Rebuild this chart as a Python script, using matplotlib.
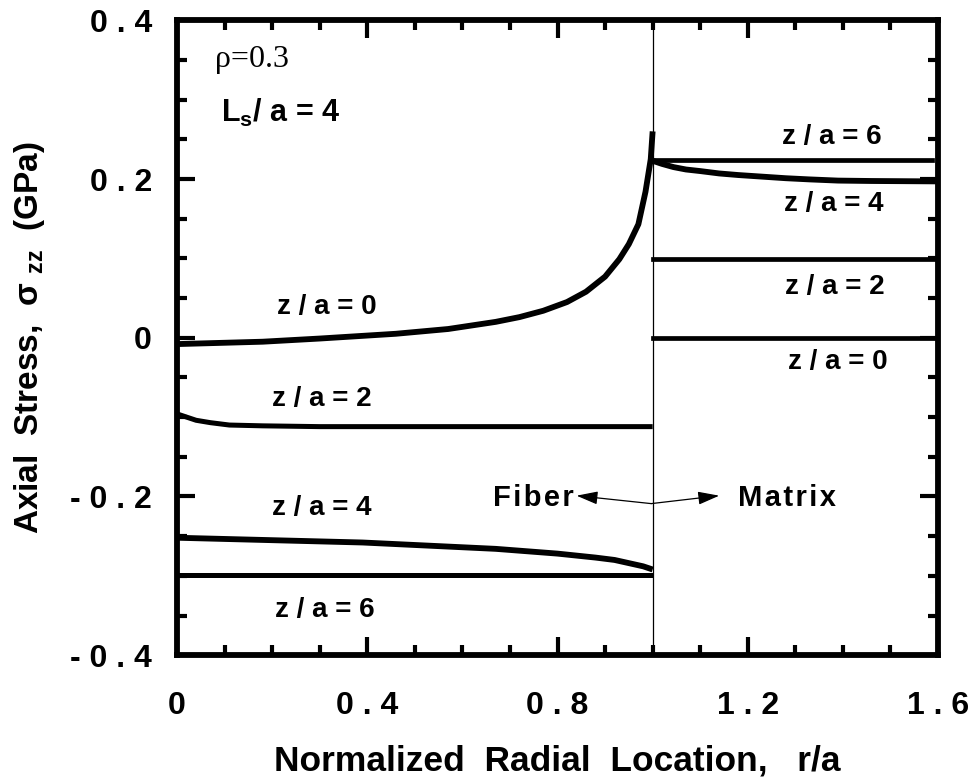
import matplotlib
matplotlib.use("Agg")
import matplotlib.pyplot as plt
from matplotlib.ticker import MultipleLocator, FixedLocator, FixedFormatter

plt.rcParams['font.family'] = ['Liberation Sans', 'DejaVu Sans']
plt.rcParams['font.weight'] = 'bold'
plt.rcParams['axes.labelweight'] = 'bold'
plt.rcParams['mathtext.fontset'] = 'custom'
plt.rcParams['mathtext.rm'] = 'Liberation Sans:bold'
plt.rcParams['mathtext.it'] = 'Liberation Sans:bold'
plt.rcParams['mathtext.bf'] = 'Liberation Sans:bold'

# fiber region (0 <= r/a <= 1)
fiber_r_z0 = [0.0, 0.18, 0.30, 0.46, 0.57, 0.67, 0.72, 0.77, 0.82, 0.86, 0.90, 0.93,
              0.95, 0.97, 0.985, 0.996, 1.0]
fiber_z0 = [-0.008, -0.005, -0.001, 0.005, 0.011, 0.020, 0.026, 0.034, 0.045, 0.058,
            0.077, 0.099, 0.118, 0.143, 0.184, 0.225, 0.260]
fiber_r_z2 = [0.0, 0.02, 0.04, 0.07, 0.11, 0.18, 0.30, 1.0]
fiber_z2 = [-0.096, -0.100, -0.104, -0.107, -0.110, -0.111, -0.112, -0.112]
fiber_r_z4 = [0.0, 0.39, 0.67, 0.80, 0.88, 0.92, 0.95, 0.98, 1.0]
fiber_z4 = [-0.252, -0.258, -0.266, -0.272, -0.277, -0.280, -0.284, -0.288, -0.292]
fiber_r_z6 = [0.0, 1.0]
fiber_z6 = [-0.299, -0.299]

# matrix region (r/a >= 1)
matrix_r_z0 = [1.0, 1.6]
matrix_z0 = [0.0, 0.0]
matrix_r_z2 = [1.0, 1.6]
matrix_z2 = [0.099, 0.099]
matrix_r_z4 = [1.0, 1.02, 1.044, 1.07, 1.10, 1.14, 1.18, 1.23, 1.28, 1.33, 1.39, 1.46, 1.6]
matrix_z4 = [0.223, 0.219, 0.215, 0.212, 0.210, 0.207, 0.205, 0.203, 0.201, 0.1995,
             0.198, 0.1975, 0.197]
matrix_r_z6 = [1.0, 1.587]
matrix_z6 = [0.224, 0.224]

x_ticks = [0, 0.4, 0.8, 1.2, 1.6]
x_labels = ["0", "0 . 4", "0 . 8", "1 . 2", "1 . 6"]
y_ticks = [-0.4, -0.2, 0, 0.2, 0.4]
y_labels = ["- 0 . 4", "- 0 . 2", "0", "0 . 2", "0 . 4"]

fig = plt.figure(figsize=(9.73, 7.80), dpi=100)
ax = fig.add_axes([0.182, 0.160, 0.782, 0.814])

lw = 4.2
ax.plot(fiber_r_z0, fiber_z0, color='black', lw=lw, solid_capstyle='butt')
ax.plot(fiber_r_z2, fiber_z2, color='black', lw=3.6, solid_capstyle='butt')
ax.plot(fiber_r_z4, fiber_z4, color='black', lw=lw, solid_capstyle='butt')
ax.plot(fiber_r_z6, fiber_z6, color='black', lw=3.6, solid_capstyle='butt')
ax.plot(matrix_r_z0, matrix_z0, color='black', lw=3.4)
ax.plot(matrix_r_z2, matrix_z2, color='black', lw=3.4)
ax.plot(matrix_r_z4, matrix_z4, color='black', lw=lw)
ax.plot(matrix_r_z6, matrix_z6, color='black', lw=3.4)

# fiber/matrix interface
ax.axvline(1.0, color='black', lw=0.9)

ax.set_xlim(0, 1.6)
ax.set_ylim(-0.4, 0.4)

ax.xaxis.set_major_locator(FixedLocator(x_ticks))
ax.xaxis.set_major_formatter(FixedFormatter(x_labels))
ax.yaxis.set_major_locator(FixedLocator(y_ticks))
ax.yaxis.set_major_formatter(FixedFormatter(y_labels))
ax.xaxis.set_minor_locator(MultipleLocator(0.1))
ax.yaxis.set_minor_locator(MultipleLocator(0.05))
ax.tick_params(which='both', direction='in', top=True, right=True, width=3.0, labelsize=23)
ax.tick_params(which='major', length=13)
ax.tick_params(which='minor', length=7)
ax.tick_params(axis='x', which='major', pad=26)
ax.tick_params(axis='y', which='major', pad=18)
for s in ax.spines.values():
    s.set_linewidth(4.2)

ax.set_xlabel("Normalized  Radial  Location,   r/a", fontsize=25.5, labelpad=17)
ax.set_ylabel("Axial  Stress,  σ $_{zz}$  (GPa)", fontsize=24, labelpad=17)

fs = 20
ax.text(0.08, 0.35, "ρ=0.3", family='Liberation Serif', fontweight='normal',
        fontsize=23, va='center', ha='left')
ax.text(0.092, 0.283, "L$_{s}$/ a = 4", fontsize=22, va='center', ha='left')

ax.text(0.315, 0.039, "z / a = 0", fontsize=fs, ha='center', va='center')
ax.text(0.305, -0.077, "z / a = 2", fontsize=fs, ha='center', va='center')
ax.text(0.305, -0.215, "z / a = 4", fontsize=fs, ha='center', va='center')
ax.text(0.31, -0.343, "z / a = 6", fontsize=fs, ha='center', va='center')

ax.text(1.377, 0.253, "z / a = 6", fontsize=fs, ha='center', va='center')
ax.text(1.38, 0.169, "z / a = 4", fontsize=fs, ha='center', va='center')
ax.text(1.384, 0.064, "z / a = 2", fontsize=fs, ha='center', va='center')
ax.text(1.39, -0.030, "z / a = 0", fontsize=fs, ha='center', va='center')

hair = "\u200a"
ax.text(0.835, -0.202, hair.join("Fiber"), fontsize=21, ha='right', va='center')
ax.text(1.18, -0.202, hair.join("Matrix"), fontsize=21, ha='left', va='center')
arrow = dict(arrowstyle='-|>,head_length=1.3,head_width=0.4', color='black', lw=0.9,
             shrinkA=0, shrinkB=0)
ax.annotate("", xy=(0.84, -0.199), xytext=(0.997, -0.209), arrowprops=arrow)
ax.annotate("", xy=(1.14, -0.199), xytext=(0.997, -0.209), arrowprops=arrow)

fig.savefig("out.png", dpi=100)
